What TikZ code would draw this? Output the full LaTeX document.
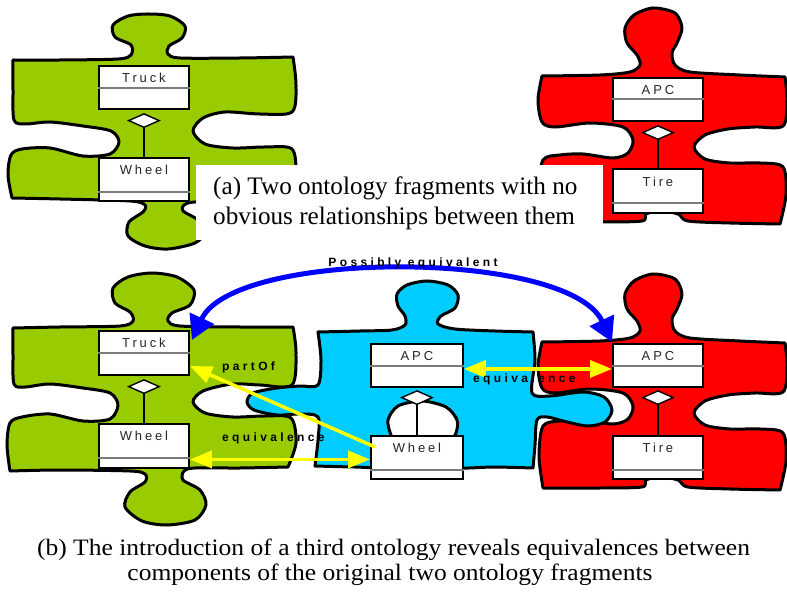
\documentclass[tikz,border=0pt]{standalone}
\usepackage{graphicx}
\usepackage{fontspec}
\setmainfont{Liberation Serif}
\newfontfamily\umlfont[LetterSpace=22]{Liberation Sans}
\newfontfamily\lblfont[LetterSpace=28]{Liberation Sans}
\usetikzlibrary{arrows.meta,shapes.geometric,calc}
\definecolor{pgreen}{HTML}{99CC00}
\definecolor{pred}{HTML}{FF0000}
\definecolor{pcyan}{HTML}{00CCFF}
\definecolor{pblue}{HTML}{0000FF}
\definecolor{pyellow}{HTML}{FFFF00}
\definecolor{sepgray}{HTML}{7A7A7A}
\newsavebox\capbbox
\tikzset{
  piece/.style={draw=black, line width=3pt, line join=round},
  umlbox/.style={draw=black, fill=white, line width=1.9pt, minimum width=90pt, minimum height=43pt, inner sep=0pt, anchor=north west},
  umltext/.style={font=\umlfont\fontsize{13}{15}\selectfont, inner sep=0pt, text=black!85},
  sepline/.style={draw=sepgray, line width=1.2pt},
  diam/.style={diamond, draw=black, fill=white, line width=1.4pt, minimum width=31pt, minimum height=14pt, inner sep=0pt, anchor=north},
  assoc/.style={draw=black, line width=2.2pt},
  bluearr/.style={draw=pblue, line width=5pt, {Triangle[length=24pt,width=26pt]}-{Triangle[length=24pt,width=26pt]}},
  yboth/.style={draw=pyellow, line width=3.5pt, {Triangle[length=22pt,width=17pt]}-{Triangle[length=22pt,width=17pt]}},
  yone/.style={draw=pyellow, line width=3.5pt, -{Triangle[length=22pt,width=17pt]}},
  lbl/.style={font=\lblfont\bfseries\fontsize{12}{14}\selectfont, inner sep=0pt},
  captxt/.style={font=\fontsize{25.2}{29}\selectfont, inner sep=0pt},
}
\newcommand\redpiece[1]{\filldraw[piece, fill=pred, shift={(0,#1)}] (542,76)
 -- plot[smooth] coordinates {(542,76) (600,75) (630,72) (640,65) (637,55) (627,43) (625,28) (634,15) (653,8) (675,13) (682,28) (677,43) (672,53) (675,65) (690,72) (740,75) (785,77)}
 -- plot[smooth] coordinates {(785,77) (787,100) (783,126) (755,127) (728,129) (705,135) (694,147) (705,159) (730,163) (760,163) (783,167) (786,195) (780,224)}
 -- plot[smooth] coordinates {(780,224) (730,223) (688,221) (678,214) (660,211) (646,214) (642,221) (600,222) (543,222)}
 -- plot[smooth] coordinates {(543,222) (539,190) (543,160) (560,155) (583,154) (613,158) (628,153) (633,140) (623,127) (590,123) (555,127) (542,122) (538,100) (542,76)}
 -- cycle;}
\begin{document}
\sbox\capbbox{\fontsize{23.5}{26}\selectfont (b) The introduction of a third ontology reveals equivalences between}
\pgfmathsetmacro\capfac{713/\the\wd\capbbox}
\begin{tikzpicture}[x=1pt,y=-1pt]
\useasboundingbox (0,0) rectangle (787,593);
\fill[white] (0,0) rectangle (787,593);

% ---------- panel (a) ----------
\filldraw[piece, fill=pgreen] (13,60)
 -- plot[smooth] coordinates {(13,60) (60,60) (118,59) (131,55) (131,45) (115,37) (113,25) (128,16) (148,14) (170,16) (185,26) (182,38) (169,46) (168,54) (180,58) (240,58) (293,57)}
 -- plot[smooth] coordinates {(293,57) (296,85) (292,112) (260,114) (225,112) (203,118) (193,131) (205,144) (233,148) (265,147) (292,149) (296,175) (292,201)}
 -- plot[smooth] coordinates {(292,201) (240,202) (195,202) (184,205) (183,211) (198,220) (205,232) (195,243) (168,249) (145,246) (128,236) (129,222) (143,212) (145,205) (130,201) (60,199) (12,198)}
 -- plot[smooth] coordinates {(12,198) (8,175) (11,155) (22,149) (50,148) (83,156) (110,154) (119,142) (111,131) (83,126) (50,122) (25,124) (14,120) (13,90) (13,60)}
 -- cycle;
\redpiece{0}

\node[umlbox] (truckA) at (98,65) {};
\draw[sepline] ([yshift=-23pt]truckA.north west) -- ([yshift=-23pt]truckA.north east);
\node[umltext] (truckAt) at ([yshift=-12.5pt]truckA.north) {Truck};
\node[diam] (dA) at ([yshift=-3pt]truckA.south) {};
\node[umlbox] (wheelA) at (98,157) {};
\draw[sepline] ([yshift=-35pt]wheelA.north west) -- ([yshift=-35pt]wheelA.north east);
\node[umltext] (wheelAt) at ([yshift=-13pt]wheelA.north) {Wheel};
\draw[assoc] (dA.south) -- (wheelA.north);

\node[umlbox] (apcA) at (612,77) {};
\draw[sepline] ([yshift=-22pt]apcA.north west) -- ([yshift=-22pt]apcA.north east);
\node[umltext] (apcAt) at ([yshift=-13pt]apcA.north) {APC};
\node[diam] (dR) at ([yshift=-3pt]apcA.south) {};
\node[umlbox, minimum height=44pt] (tireA) at (612,168) {};
\draw[sepline] ([yshift=-35pt]tireA.north west) -- ([yshift=-35pt]tireA.north east);
\node[umltext] (tireAt) at ([yshift=-14pt]tireA.north) {Tire};
\draw[assoc] (dR.south) -- (tireA.north);

\node[fill=white, inner sep=0pt, minimum width=407pt, minimum height=75pt, anchor=north west] (capAbox) at (196,165) {};
\node[captxt, anchor=base west] (capA1) at (213,195) {(a) Two ontology fragments with no};
\node[captxt, anchor=base west] (capA2) at (213,224.5) {obvious relationships between them};

% ---------- panel (b) ----------
\filldraw[piece, fill=pgreen] (13,328)
 -- plot[smooth] coordinates {(13,328) (60,327) (120,326) (133,321) (130,312) (115,303) (113,288) (128,277) (152,273) (177,277) (194,290) (190,305) (172,313) (168,321) (180,326) (240,327) (293,327)}
 -- plot[smooth] coordinates {(293,327) (296,352) (292,385) (260,385) (232,384) (203,391) (193,402) (205,413) (233,417) (265,416) (291,418) (296,443) (288,467)}
 -- plot[smooth] coordinates {(288,467) (240,468) (195,468) (184,471) (183,480) (200,490) (206,505) (195,520) (167,525) (142,521) (125,507) (130,492) (145,482) (145,474) (130,471) (60,470) (10,471)}
 -- plot[smooth] coordinates {(10,471) (7,445) (10,423) (22,417) (50,414) (83,421) (110,419) (118,405) (110,393) (83,388) (50,384) (25,387) (14,384) (13,355) (13,328)}
 -- cycle;
\redpiece{266}
\filldraw[piece, fill=pcyan] (318,332)
 -- plot[smooth] coordinates {(318,332) (360,331) (392,330) (405,325) (405,316) (398,306) (397,294) (407,285) (427,281) (448,285) (458,295) (455,308) (441,316) (438,324) (455,329) (495,331) (533,332)}
 -- plot[smooth] coordinates {(533,332) (535,360) (532,393) (550,396) (583,392) (604,397) (612,410) (605,422) (588,426) (567,422) (547,417) (537,420) (535,445) (533,468)}
 -- plot[smooth] coordinates {(533,468) (495,467) (450,467) (448,448) (456,433) (457,420) (446,407) (422,401) (398,406) (388,420) (391,435) (398,448) (395,467) (355,467) (315,466)}
 -- plot[smooth] coordinates {(315,466) (318,440) (318,417) (300,414) (277,415) (254,410) (247,402) (253,393) (277,388) (300,386) (318,385) (321,360) (318,332)}
 -- cycle;

% green boxes (b)
\node[umlbox, minimum height=44pt] (truckB) at (98,330) {};
\draw[sepline] ([yshift=-23pt]truckB.north west) -- ([yshift=-23pt]truckB.north east);
\node[umltext] (truckBt) at ([yshift=-12.5pt]truckB.north) {Truck};
\node[diam] (dB) at ([yshift=-3pt]truckB.south) {};
\node[umlbox, minimum height=44pt] (wheelB) at (98,423) {};
\draw[sepline] ([yshift=-35pt]wheelB.north west) -- ([yshift=-35pt]wheelB.north east);
\node[umltext] (wheelBt) at ([yshift=-13pt]wheelB.north) {Wheel};
\draw[assoc] (dB.south) -- (wheelB.north);

% cyan boxes
\node[umlbox, minimum width=92pt] (apcC) at (370,343) {};
\draw[sepline] ([yshift=-23pt]apcC.north west) -- ([yshift=-23pt]apcC.north east);
\node[umltext] (apcCt) at ([yshift=-13pt]apcC.north) {APC};
\node[diam] (dC) at ([yshift=-2pt]apcC.south) {};
\node[umlbox, minimum width=92pt] (wheelC) at (370,435) {};
\draw[sepline] ([yshift=-35pt]wheelC.north west) -- ([yshift=-35pt]wheelC.north east);
\node[umltext] (wheelCt) at ([yshift=-13pt]wheelC.north) {Wheel};
\draw[assoc] (dC.south) -- (wheelC.north);

% red boxes (b)
\node[umlbox] (apcR) at (612,343) {};
\draw[sepline] ([yshift=-23pt]apcR.north west) -- ([yshift=-23pt]apcR.north east);
\node[umltext] (apcRt) at ([yshift=-13pt]apcR.north) {APC};
\node[diam] (dR2) at ([yshift=-2pt]apcR.south) {};
\node[umlbox] (tireR) at (612,435) {};
\draw[sepline] ([yshift=-35pt]tireR.north west) -- ([yshift=-35pt]tireR.north east);
\node[umltext] (tireRt) at ([yshift=-13pt]tireR.north) {Tire};
\draw[assoc] (dR2.south) -- (tireR.north);

% connectors
\draw[bluearr] ([xshift=2pt,yshift=-10pt]truckB.north east) .. controls (234,249) and (568,249) .. ([yshift=1pt]apcR.north west);
\draw[yone] ([xshift=5pt,yshift=-12pt]wheelC.north west) -- ([yshift=-13pt]truckB.east);
\coordinate (eqL) at ([yshift=-13.5pt]wheelB.east);
\draw[yboth] (eqL) -- (eqL -| wheelC.west);
\coordinate (eqR) at ([yshift=-3.5pt]apcC.east);
\draw[yboth] (eqR) -- (eqR -| apcR.west);

% labels
\node[lbl, anchor=base] (lpe) at (413,267) {Possibly\hspace{0.55em}equivalent};
\node[lbl, anchor=base west] (lpart) at (222,371) {partOf};
\node[lbl, anchor=base west] (leqL) at (222,441) {equivalence};
\node[lbl, anchor=base west] (leqR) at (473,383) {equivalence};

% caption (b)
\node[inner sep=0pt, anchor=base] (capB1) at (393.5,555) {\scalebox{\capfac}[1]{\usebox\capbbox}};
\node[inner sep=0pt, anchor=base] (capB2) at (390,580.5) {\scalebox{\capfac}[1]{\fontsize{23.5}{26}\selectfont components of the original two ontology fragments}};
\end{tikzpicture}
\end{document}
